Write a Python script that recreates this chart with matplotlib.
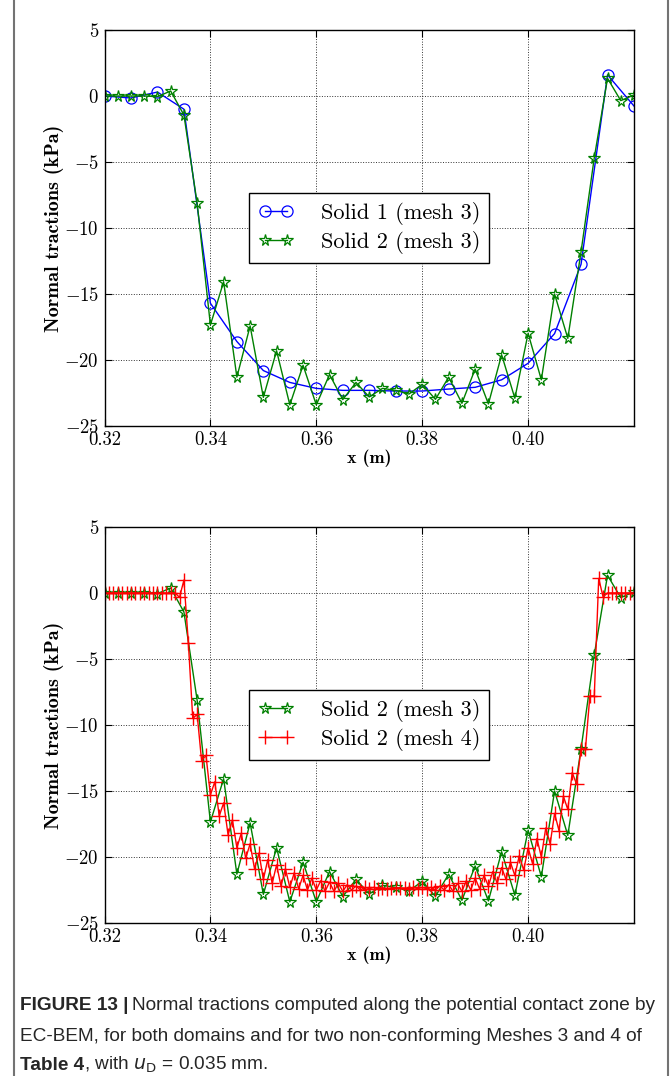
import numpy as np
import matplotlib
matplotlib.use("Agg")
import matplotlib.pyplot as plt

# ---------------- data ----------------
x_s1_m3 = [0.320, 0.325, 0.330, 0.335, 0.340, 0.345, 0.350, 0.355, 0.360, 0.365, 0.370,
           0.375, 0.380, 0.385, 0.390, 0.395, 0.400, 0.405, 0.410, 0.415, 0.420]
y_s1_m3 = [0.0, -0.15, 0.3, -1.0, -15.7, -18.6, -20.8, -21.7, -22.15, -22.3, -22.3,
           -22.35, -22.35, -22.2, -22.07, -21.5, -20.25, -18.0, -12.75, 1.6, -0.76]

x_s2_m3 = [0.3200, 0.3225, 0.3250, 0.3275, 0.3300, 0.3325, 0.3350, 0.3375, 0.3400, 0.3425,
           0.3450, 0.3475, 0.3500, 0.3525, 0.3550, 0.3575, 0.3600, 0.3625, 0.3650, 0.3675,
           0.3700, 0.3725, 0.3750, 0.3775, 0.3800, 0.3825, 0.3850, 0.3875, 0.3900, 0.3925,
           0.3950, 0.3975, 0.4000, 0.4025, 0.4050, 0.4075, 0.4100, 0.4125, 0.4150, 0.4175,
           0.4200]
y_s2_m3 = [0.0, 0.0, 0.0, 0.0, -0.05, 0.38, -1.44, -8.13, -17.35, -14.07,
           -21.3, -17.42, -22.83, -19.3, -23.4, -20.4, -23.4, -21.1, -23.0, -21.7,
           -22.8, -22.15, -22.3, -22.58, -21.84, -22.98, -21.3, -23.28, -20.68, -23.33,
           -19.6, -22.9, -17.98, -21.5, -15.0, -18.36, -11.8, -4.67, 1.34, -0.35,
           0.08]

# mesh 4 nodes (uniform mesh, 120 elements over 0.32-0.42 m)
x_s2_m4 = np.linspace(0.32, 0.42, 121)
y_s2_m4 = ([0.0] * 17 +
           [-0.33, 0.98, -3.76, -9.5, -9.2, -12.7, -12.3, -15.3, -14.3, -16.9,
            -15.9, -18.3, -17.2, -19.3, -18.2, -20.1, -19.0, -20.9, -19.7, -21.7,
            -20.2, -22.0, -20.6, -22.2, -20.9, -22.3, -21.2, -22.4, -21.4, -22.5,
            -21.6, -22.5, -21.8, -22.6, -21.9, -22.6, -22.0, -22.6, -22.1, -22.5,
            -22.2, -22.5, -22.3, -22.4, -22.3, -22.4, -22.35, -22.4, -22.35, -22.35,
            -22.35, -22.35, -22.4, -22.3, -22.4, -22.3, -22.4, -22.3, -22.5, -22.2,
            -22.5, -22.1, -22.6, -22.0, -22.6, -21.8, -22.5, -21.6, -22.4, -21.4,
            -22.2, -21.1, -22.0, -20.8, -21.7, -20.4, -21.4, -19.9, -21.0, -19.3,
            -20.5, -18.6, -20.0, -17.8, -19.0, -16.7, -18.0, -15.4, -16.4, -13.6,
            -14.5, -11.8, -11.8, -7.8, -7.8, 1.1, -0.3] +
           [0.0] * 7)

x_ticks = [0.32, 0.34, 0.36, 0.38, 0.40]
x_ticklabels = ["0.32", "0.34", "0.36", "0.38", "0.40"]
y_ticks = [5, 0, -5, -10, -15, -20, -25]

labels_top = ["Solid 1 (mesh 3)", "Solid 2 (mesh 3)"]
labels_bot = ["Solid 2 (mesh 3)", "Solid 2 (mesh 4)"]
xlabel = "x (m)"
ylabel = "Normal tractions (kPa)"

# ---------------- style ----------------
plt.rcParams["mathtext.fontset"] = "cm"
plt.rcParams["axes.formatter.use_mathtext"] = True
plt.rcParams["font.family"] = ["cmr10", "DejaVu Serif"]
plt.rcParams["axes.unicode_minus"] = True

W, H = 672, 1076
fig = plt.figure(figsize=(W / 100, H / 100), dpi=100)


def px_axes(left, top, right, bottom):
    return [left / W, 1 - bottom / H, (right - left) / W, (bottom - top) / H]


ax1 = fig.add_axes(px_axes(104.5, 30, 634, 426))
ax2 = fig.add_axes(px_axes(104.5, 527, 634, 923))

blue = (0, 0, 1)
green = (0, 0.5, 0)
red = (1, 0, 0)

ax1.plot(x_s1_m3, y_s1_m3, color=blue, lw=1.0, marker="o", ms=8, mfc="none",
         mec=blue, mew=0.9, label=labels_top[0])
ax1.plot(x_s2_m3, y_s2_m3, color=green, lw=1.0, marker="*", ms=8.5, mfc="none",
         mec=green, mew=0.9, label=labels_top[1])

ax2.plot(x_s2_m3, y_s2_m3, color=green, lw=1.0, marker="*", ms=8.5, mfc="none",
         mec=green, mew=0.9, label=labels_bot[0])
ax2.plot(x_s2_m4, y_s2_m4, color=red, lw=1.0, marker="+", ms=9.5, mew=1.0,
         label=labels_bot[1])

for ax in (ax1, ax2):
    ax.set_xlim(0.32, 0.42)
    ax.set_ylim(-25, 5)
    ax.set_xticks(x_ticks)
    ax.set_xticklabels(x_ticklabels)
    ax.set_yticks(y_ticks)
    ax.tick_params(direction="in", top=True, right=True, length=5, width=0.8,
                   labelsize=13.5, pad=4)
    ax.grid(True, color="black", linestyle=":", linewidth=0.7, alpha=0.8)
    for s in ax.spines.values():
        s.set_linewidth(1.0)
    ax.set_xlabel(xlabel, fontsize=13, family="cmb10", labelpad=0)
    ax.set_ylabel(ylabel, fontsize=14.5, family="cmb10", labelpad=0)
    leg = ax.legend(loc="center", numpoints=2, fontsize=16, handlelength=1.6,
                    handletextpad=1.25, borderpad=0.4, labelspacing=0.29,
                    fancybox=False, framealpha=1.0, edgecolor="black")
    leg.get_frame().set_linewidth(1.0)

# ---------------- frame ----------------
frame_col = (0.45, 0.45, 0.45)
fig.add_artist(plt.Line2D([14 / W, 14 / W], [0, 1], color=frame_col, lw=1.5,
                          transform=fig.transFigure))
fig.add_artist(plt.Line2D([667.5 / W, 667.5 / W], [0, 1], color=frame_col, lw=1.5,
                          transform=fig.transFigure))

# ---------------- caption ----------------
cap_family = ["Liberation Sans Narrow", "Liberation Sans", "DejaVu Sans"]
cap_color = (0.15, 0.15, 0.15)
line2 = "EC-BEM, for both domains and for two non-conforming Meshes 3 and 4 of"

fig.canvas.draw()
renderer = fig.canvas.get_renderer()
probe = fig.text(0, 0, line2, fontsize=14, family=cap_family)
w_probe = probe.get_window_extent(renderer).width
probe.remove()
cap_fs = 14 * (626 / w_probe)


def put(x, y, s, bold=False):
    t = fig.text(x / W, 1 - y / H, s, fontsize=cap_fs, family=cap_family,
                 weight="bold" if bold else "normal", color=cap_color,
                 va="baseline", ha="left", math_fontfamily="dejavusans")
    return t.get_window_extent(renderer).x1


x0 = 20
xe = put(x0, 1010, "FIGURE 13 |", bold=True)
put(xe + 4, 1010, "Normal tractions computed along the potential contact zone by")
put(x0, 1041, line2)
xe = put(x0, 1070, "Table 4", bold=True)
put(xe, 1070, r", with $u_{\mathrm{D}}$ = 0.035 mm.")

fig.savefig("out.png", dpi=100)
